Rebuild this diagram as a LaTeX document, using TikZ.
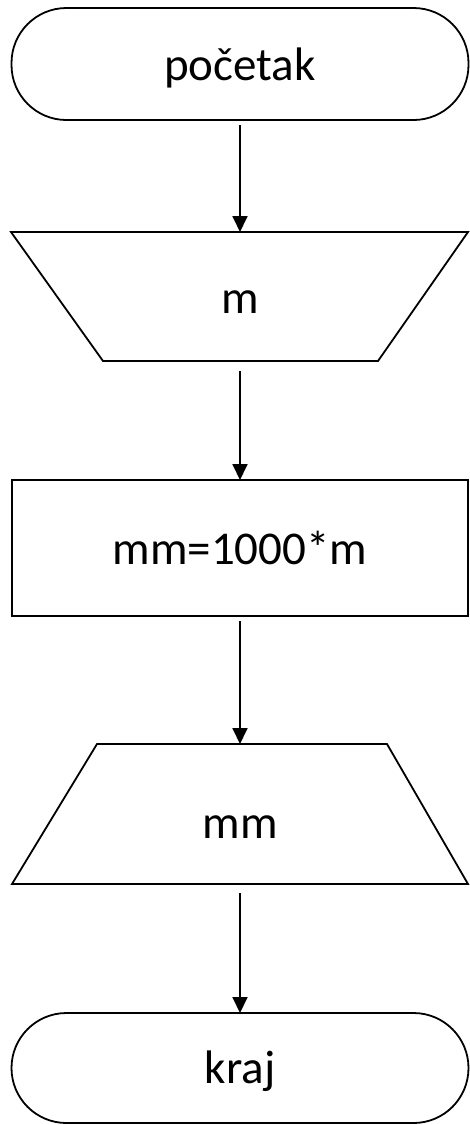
\documentclass[tikz,border=0pt]{standalone}
\usepackage{fontspec}
\setmainfont{Carlito}
\usetikzlibrary{arrows.meta}
\begin{document}
\begin{tikzpicture}[x=1pt,y=-1pt,
 box/.style={draw,line width=1.8pt,inner sep=0pt,outer sep=0pt},
 term/.style={box,rectangle,rounded corners=55pt,minimum width=457pt},
 proc/.style={box,rectangle,minimum width=456pt,minimum height=136pt},
 io/.style={line width=1.8pt,line join=miter},
 lbl/.style={font=\fontsize{47}{50}\selectfont,anchor=base,inner sep=0pt},
 conn/.style={line width=1.8pt,shorten <=5pt,-{Triangle[length=16pt,width=15pt]}}]
\useasboundingbox (0,0) rectangle (469,1125);
\node[term,minimum height=112pt] (start) at (240,64) {};
\draw[io] (11,232) -- (468,232) -- (378,361) -- (103,361) -- cycle;
\coordinate (inT) at (240,232);
\coordinate (inB) at (240,361);
\node[proc] (calc) at (240,548) {};
\draw[io] (97,744) -- (387,744) -- (468,884) -- (12,884) -- cycle;
\coordinate (outT) at (240,744);
\coordinate (outB) at (240,884);
\node[term,minimum height=110pt] (end) at (240,1068) {};
\node[lbl] (t1) at (240,80) {početak};
\node[lbl] (t2) at (240,313) {m};
\node[lbl] (t3) at (240,564) {mm=1000*m};
\node[lbl] (t4) at (240,838) {mm};
\node[lbl] (t5) at (240,1083) {kraj};
\draw[conn] (start) -- (inT);
\draw[conn,shorten <=10pt] (inB) -- (calc);
\draw[conn] (calc) -- (outT);
\draw[conn,shorten <=9pt] (outB) -- (end);
\end{tikzpicture}
\end{document}
